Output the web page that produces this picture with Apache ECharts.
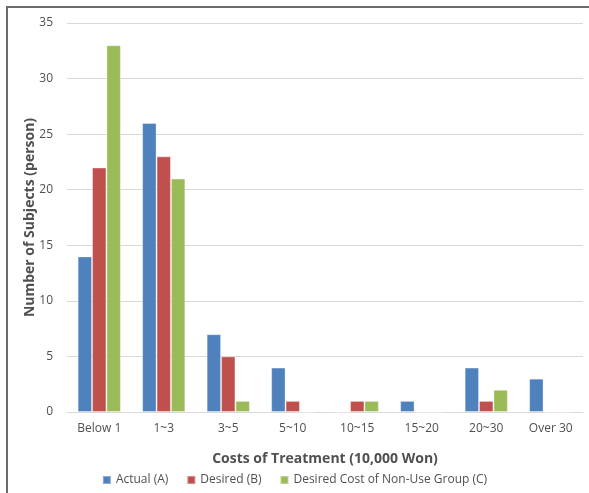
<!DOCTYPE html>
<html>
<head>
<meta charset="utf-8">
<script src="https://cdn.jsdelivr.net/npm/echarts@6/dist/echarts.min.js"></script>
<style>
  html, body { margin: 0; padding: 0; background: #fff; }
  #wrap { position: relative; width: 589px; height: 493px; }
  #chart { width: 589px; height: 493px; }
  .frame {
    position: absolute; left: 6px; top: 6px; right: 0; bottom: 0;
    border-left: 2px solid #6b6b6b; border-top: 2px solid #6b6b6b;
    pointer-events: none;
  }
</style>
</head>
<body>
<div id="wrap">
  <div id="chart"></div>
  <div class="frame"></div>
</div>
<script>
  // data
  var categories = ['Below 1', '1~3', '3~5', '5~10', '10~15', '15~20', '20~30', 'Over 30'];
  var actual = [14, 26, 7, 4, 0, 1, 4, 3];
  var desired = [22, 23, 5, 1, 1, 0, 1, 0];
  var nonUse = [33, 21, 1, 0, 1, 0, 2, 0];
  var seriesNames = ['Actual (A)', 'Desired (B)', 'Desired Cost of Non-Use Group (C)'];

  var font = '"Open Sans", "Noto Sans", sans-serif';
  var txt = '#505050';
  var chart = echarts.init(document.getElementById('chart'));

  function bar(name, data, color) {
    return {
      name: name,
      type: 'bar',
      data: data,
      barGap: '0%',
      barCategoryGap: '33%',
      itemStyle: { color: color, borderColor: 'rgba(255,255,255,0.35)', borderWidth: 1 }
    };
  }

  chart.setOption({
    animation: false,
    textStyle: { fontFamily: font },
    grid: { left: 67, right: 6, top: 23, bottom: 81 },
    legend: {
      bottom: 2,
      left: 'center',
      itemWidth: 8,
      itemHeight: 8,
      itemGap: 18,
      icon: 'rect',
      textStyle: { color: txt, fontSize: 12, fontFamily: font }
    },
    xAxis: {
      type: 'category',
      data: categories,
      name: 'Costs of Treatment (10,000 Won)',
      nameLocation: 'middle',
      nameGap: 40,
      nameMoveOverlap: false,
      nameTextStyle: { color: txt, fontSize: 14, fontWeight: 'bold', fontFamily: font },
      axisLine: { lineStyle: { color: '#d9d9d9' } },
      axisTick: { show: false },
      axisLabel: { color: txt, fontSize: 12, margin: 11 }
    },
    yAxis: {
      type: 'value',
      min: 0,
      max: 35,
      interval: 5,
      name: 'Number of Subjects (person)',
      nameLocation: 'middle',
      nameGap: 30,
      nameMoveOverlap: false,
      nameTextStyle: { color: txt, fontSize: 14, fontWeight: 'bold', fontFamily: font },
      axisLine: { show: false },
      axisTick: { show: false },
      axisLabel: { color: txt, fontSize: 12, margin: 14 },
      splitLine: { lineStyle: { color: '#d9d9d9' } }
    },
    series: [
      bar(seriesNames[0], actual, '#4f81bd'),
      bar(seriesNames[1], desired, '#c0504d'),
      bar(seriesNames[2], nonUse, '#9bbb59')
    ]
  });
</script>
</body>
</html>
